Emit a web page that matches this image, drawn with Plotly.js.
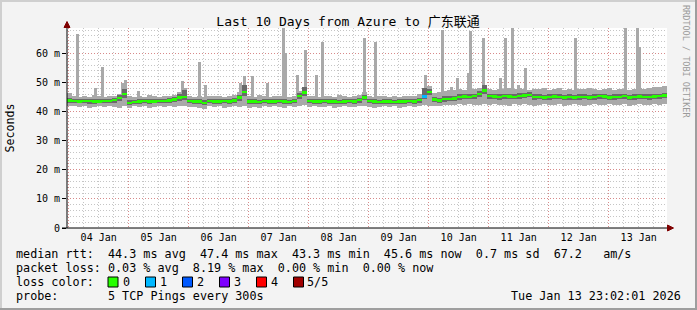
<!DOCTYPE html>
<html><head><meta charset="utf-8">
<script src="https://cdn.plot.ly/plotly-3.0.1.min.js"></script>
<style>html,body{margin:0;padding:0;background:#f3f3f3;}</style>
</head><body><div id="chart" style="width:697px;height:310px;"></div>
<script>
// ---------- data ----------
const rangeStart = '2026-01-03 23:20:00';
const rangeEnd = '2026-01-13 23:20:00';
const binHours = 2; // each smoke column covers 2 hours

const dayTicks = ['2026-01-04 12:00','2026-01-05 12:00','2026-01-06 12:00','2026-01-07 12:00','2026-01-08 12:00',
  '2026-01-09 12:00','2026-01-10 12:00','2026-01-11 12:00','2026-01-12 12:00','2026-01-13 12:00'];
const dayLabels = ['04 Jan','05 Jan','06 Jan','07 Jan','08 Jan','09 Jan','10 Jan','11 Jan','12 Jan','13 Jan'];
const midnights = ['2026-01-04','2026-01-05','2026-01-06','2026-01-07','2026-01-08','2026-01-09',
  '2026-01-10','2026-01-11','2026-01-12','2026-01-13'];
const yTickVals = [0,10,20,30,40,50,60];
const yTickText = ['0','10 m','20 m','30 m','40 m','50 m','60 m'];

// median rtt (ms) per 2h column
const rttMedian = [
 43.8,43.6,43.5,43.7,43.6,43.4,43.5,43.7,43.6,43.9,44.6,46.0,
 43.0,43.3,43.5,43.6,43.4,43.5,43.7,43.6,43.8,44.2,44.8,45.0,
 43.6,43.4,43.5,43.0,43.6,43.5,43.4,43.6,43.5,43.8,44.8,46.8,
 43.4,43.5,43.3,43.6,43.5,43.4,43.6,43.5,43.3,43.7,45.4,46.6,
 43.6,43.4,43.5,43.6,43.4,43.5,43.3,43.5,43.6,43.5,44.0,44.8,
 43.6,43.4,43.3,43.5,43.4,43.3,43.5,43.4,43.6,43.5,44.0,45.2,
 46.8,44.2,43.8,44.3,44.4,44.5,45.0,45.2,45.1,45.3,46.0,47.2,
 45.3,45.2,45.0,45.3,45.2,45.1,45.4,45.6,45.8,45.0,45.1,44.9,
 45.0,45.2,45.1,44.9,45.0,44.8,45.0,45.1,44.9,45.0,45.3,45.2,
 44.8,45.0,45.1,45.3,44.9,45.0,45.2,45.1,45.0,45.2,45.3,45.6];
// lowest ping per column
const rttMin = [
 41.9,42.0,41.6,41.8,41.2,41.7,41.9,41.5,41.8,41.6,41.3,41.9,
 41.4,41.8,41.6,41.9,41.2,41.7,41.8,41.5,41.9,41.6,41.8,42.0,
 41.5,41.7,41.2,41.0,41.8,41.6,41.9,41.4,41.7,41.8,41.6,41.9,
 41.3,41.5,41.1,41.8,41.6,41.9,41.7,41.4,41.8,41.6,41.9,42.1,
 41.6,41.8,41.5,41.7,41.9,41.4,41.6,41.8,41.5,41.7,41.9,42.0,
 41.6,41.4,41.7,41.9,41.5,41.8,41.3,41.6,41.8,41.7,41.9,42.1,
 42.0,41.8,42.0,42.2,42.4,42.1,42.5,42.3,42.6,42.2,42.4,42.5,
 42.3,42.6,42.1,42.4,42.0,42.5,42.3,42.6,42.2,41.8,42.3,42.5,
 42.1,42.4,42.6,41.9,42.3,42.5,42.2,42.0,42.4,42.6,42.3,42.1,
 42.5,42.2,42.4,42.6,42.0,42.3,42.5,42.2,42.4,42.6,42.3,42.7];
// highest ping per column (excluding isolated spikes below)
const rttMax = [
 46.4,45.3,45.0,45.4,45.1,45.6,45.2,44.9,45.3,45.5,46.2,47.0,
 45.2,45.0,45.4,45.1,45.6,45.3,44.9,45.2,45.5,45.8,46.8,47.2,
 45.4,45.1,45.3,45.0,45.5,45.2,45.4,45.1,45.3,45.6,46.8,48.5,
 45.3,45.1,45.6,45.2,45.0,45.4,45.3,45.5,45.1,45.4,47.0,48.3,
 45.2,45.5,45.0,45.3,45.4,45.1,45.6,45.2,45.0,45.3,45.8,46.6,
 45.3,45.1,45.4,45.2,45.0,45.3,45.1,45.4,45.2,45.5,45.9,48.2,
 48.8,46.4,46.8,47.2,47.5,47.3,47.8,47.5,47.9,47.6,48.2,49.3,
 47.8,47.5,47.9,47.6,48.0,47.7,48.1,47.8,47.5,47.9,47.6,48.0,
 47.4,47.7,48.1,47.5,47.8,47.3,47.9,47.6,48.0,47.7,47.4,47.8,
 48.1,47.5,47.8,47.6,47.3,47.9,48.2,47.7,48.0,48.3,48.6,48.9];
// inner (dense) smoke band
const rttInnerLo = [
 43.0,42.9,42.8,42.9,42.7,42.6,42.8,42.9,42.8,43.0,43.6,44.6,
 42.3,42.5,42.7,42.8,42.6,42.8,42.9,42.8,43.0,43.3,43.8,44.0,
 42.8,42.6,42.7,42.2,42.8,42.7,42.6,42.8,42.7,43.0,43.8,45.2,
 42.6,42.7,42.5,42.8,42.7,42.6,42.8,42.7,42.5,42.9,44.2,45.3,
 42.8,42.6,42.7,42.8,42.6,42.7,42.5,42.7,42.8,42.7,43.1,43.9,
 42.8,42.6,42.5,42.7,42.6,42.5,42.7,42.6,42.8,42.7,43.1,44.2,
 45.8,43.2,43.0,43.4,43.5,43.6,44.0,44.3,44.2,44.4,45.0,46.2,
 44.4,44.3,44.1,44.4,44.3,44.2,44.5,44.7,44.9,44.1,44.2,44.0,
 44.1,44.3,44.2,44.0,44.1,43.9,44.1,44.2,44.0,44.1,44.4,44.3,
 43.9,44.1,44.2,44.4,44.0,44.1,44.3,44.2,44.1,44.3,44.4,44.7];
const rttInnerHi = [
 44.6,44.4,44.3,44.5,44.4,44.3,44.3,44.5,44.4,44.7,45.8,47.6,
 43.9,44.1,44.3,44.4,44.2,44.3,44.5,44.4,44.6,45.0,46.0,47.5,
 44.4,44.2,44.3,43.9,44.4,44.3,44.2,44.4,44.3,44.6,45.8,49.0,
 44.2,44.3,44.1,44.4,44.3,44.2,44.4,44.3,44.1,44.5,46.5,48.6,
 44.4,44.2,44.3,44.4,44.2,44.3,44.1,44.3,44.4,44.3,44.8,45.7,
 44.4,44.2,44.1,44.3,44.2,44.1,44.3,44.2,44.4,44.3,44.8,48.2,
 47.8,45.0,44.7,45.2,45.3,45.4,45.9,46.1,46.0,46.2,47.0,49.3,
 46.2,46.1,45.9,46.2,46.1,46.0,46.3,46.5,46.7,45.9,46.0,45.8,
 45.9,46.1,46.0,45.8,45.9,45.7,45.9,46.0,45.8,45.9,46.2,46.1,
 45.7,45.9,46.0,46.2,45.8,45.9,46.1,46.0,45.9,46.1,46.2,46.5];
// lost pings (of 5) per column
const lostPings = [
 0,0,0,0,0,0,0,0,0,0,0,0, 0,0,0,0,0,0,0,0,0,0,0,0,
 0,0,0,0,0,0,0,0,0,0,0,0, 0,0,0,0,0,0,0,0,0,0,0,0,
 0,0,0,0,0,0,0,0,0,0,0,0, 0,0,0,0,0,0,0,0,0,0,0,1,
 0,0,0,0,0,0,0,0,0,0,0,0, 0,0,0,0,0,0,0,0,0,0,0,0,
 0,0,0,0,0,0,0,0,0,0,0,0, 0,0,0,0,0,0,0,0,0,0,0,0];
// isolated high pings
const spikeTimes = ['2026-01-04 03:20','2026-01-04 10:32','2026-01-04 13:20','2026-01-04 21:20','2026-01-04 22:32',
 '2026-01-05 03:44','2026-01-05 21:20','2026-01-05 22:32','2026-01-06 04:08','2026-01-06 06:32','2026-01-06 20:32',
 '2026-01-06 22:08','2026-01-07 01:20','2026-01-07 07:20','2026-01-07 13:44','2026-01-07 14:32','2026-01-07 19:20',
 '2026-01-07 22:32','2026-01-08 02:56','2026-01-08 05:20','2026-01-08 22:08','2026-01-09 02:32','2026-01-09 22:32',
 '2026-01-10 05:20','2026-01-10 08:56','2026-01-10 11:20','2026-01-10 15:44','2026-01-10 16:32','2026-01-10 21:44',
 '2026-01-11 04:32','2026-01-11 06:32','2026-01-11 09:20','2026-01-11 11:44','2026-01-11 14:32','2026-01-12 10:32',
 '2026-01-13 06:32','2026-01-13 11:20','2026-01-13 12:08'];
const spikeTops = [66.7,48.1,55.4,49.9,50.9,47.0,50.5,48.0,57.2,49.1,49.8,52.3,52.2,49.9,68.8,60.1,52.6,61.2,52.6,64.0,
 65.3,64.0,52.6,68.0,48.5,51.5,53.3,67.8,65.3,51.5,65.3,68.6,49.0,55.0,65.4,68.7,68.7,62.3];

const lossLabels = ['0','1','2','3','4','5/5'];
const lossColors = ['#26ff00','#00b8ff','#0059ff','#7e00ff','#ff0000','#a10000'];

const statLines = [
  'median rtt:  44.3 ms avg  47.4 ms max  43.3 ms min  45.6 ms now  0.7 ms sd  67.2   am/s',
  'packet loss: 0.03 % avg  8.19 % max  0.00 % min  0.00 % now',
  'loss color:',
  'probe:       5 TCP Pings every 300s'
];
const stampText = 'Tue Jan 13 23:02:01 2026';
const statY = [254,268,282,296];

// ---------- drawing ----------
const W = 697, H = 310, L = 67, T = 28, PW = 600, PH = 200;
const px = x => (x - L) / PW;
const py = y => (T + PH - y) / PH;
const MONO = 'DejaVu Sans Mono, monospace';
const LEG_FONT = {family: MONO, size: 11.75, color:'#000'};

const t0 = new Date(rangeStart.replace(' ', 'T') + 'Z').getTime();
const binMs = binHours * 3600000;
const fmt = ms => new Date(ms).toISOString().replace('T', ' ').slice(0, 19);
const binX = rttMedian.map((_, i) => fmt(t0 + (i + 0.5) * binMs));

const LIGHT = '#a9a9a9', DARK = '#6a6a6a';
const traces = [];
traces.push({type:'bar', x: spikeTimes, base: spikeTimes.map(() => 44), y: spikeTops.map(v => v - 44),
  width: 4320000, marker:{color: LIGHT, line:{width:0}}, hoverinfo:'skip', showlegend:false});
traces.push({type:'bar', x: binX, base: rttMin, y: rttMax.map((v, i) => v - rttMin[i]),
  width: binMs, marker:{color: LIGHT, line:{width:0}}, hoverinfo:'skip', showlegend:false});
traces.push({type:'bar', x: binX, base: rttInnerLo, y: rttInnerHi.map((v, i) => v - rttInnerLo[i]),
  width: binMs, marker:{color: DARK, line:{width:0}}, hoverinfo:'skip', showlegend:false});
traces.push({type:'bar', x: binX, base: rttMedian.map(v => v - 0.42), y: rttMedian.map(() => 0.84),
  width: binMs, marker:{color: lostPings.map(n => lossColors[n]), line:{width:0}}, hoverinfo:'skip', showlegend:false});
traces.push({type:'scatter', x: [], y: [], xaxis:'x2', yaxis:'y', hoverinfo:'skip', showlegend:false});

const annotations = [];
statLines.forEach((txt, li) => {
  annotations.push({xref:'paper', yref:'paper', x: px(16), y: py(statY[li]), xanchor:'left', yanchor:'middle',
    text: txt.replace(/ /g, '\u00a0'), showarrow:false, borderpad:0, borderwidth:0, font: LEG_FONT});
});
annotations.push({xref:'paper', yref:'paper', x: px(680.5), y: py(296), xanchor:'right', yanchor:'middle',
  text: stampText.replace(/ /g, '\u00a0'), showarrow:false, borderpad:0, borderwidth:0, font: LEG_FONT});
const boxX = [108, 145.5, 182.5, 219.5, 256.5, 293.5];
const digitX = [123, 160, 197, 234, 271, 307];
const shapes = [];
lossLabels.forEach((lab, i) => {
  shapes.push({type:'rect', xref:'paper', yref:'paper', x0: px(boxX[i]), x1: px(boxX[i] + 10), y0: py(287), y1: py(277),
    fillcolor: lossColors[i], line:{color:'#000', width:1}});
  annotations.push({xref:'paper', yref:'paper', x: px(digitX[i]), y: py(282), xanchor:'left', yanchor:'middle',
    text: lab, showarrow:false, borderpad:0, borderwidth:0, font: LEG_FONT});
});
// watermark
annotations.push({xref:'paper', yref:'paper', x: px(686), y: py(61), xanchor:'center', yanchor:'middle', textangle: 90,
  text: 'RRDTOOL / TOBI OETIKER', showarrow:false, font:{family: MONO, size: 8.5, color:'#9a9a9a'}});

// frame & arrows
shapes.push({type:'rect', xref:'paper', yref:'paper', x0: px(0), x1: px(697), y0: py(310), y1: py(308), fillcolor:'#9e9e9e', line:{width:0}, layer:'above'});
shapes.push({type:'rect', xref:'paper', yref:'paper', x0: px(695), x1: px(697), y0: py(310), y1: py(0), fillcolor:'#9e9e9e', line:{width:0}, layer:'above'});
shapes.push({type:'rect', xref:'paper', yref:'paper', x0: px(0), x1: px(695), y0: py(2), y1: py(0), fillcolor:'#cfcfcf', line:{width:0}, layer:'above'});
shapes.push({type:'rect', xref:'paper', yref:'paper', x0: px(0), x1: px(2), y0: py(308), y1: py(0), fillcolor:'#cfcfcf', line:{width:0}, layer:'above'});
shapes.push({type:'line', xref:'paper', yref:'paper', x0: px(67), x1: px(67), y0: py(228), y1: py(24), line:{color:'#000', width:1}, layer:'above'});
shapes.push({type:'line', xref:'paper', yref:'paper', x0: px(62), x1: px(670), y0: py(228), y1: py(228), line:{color:'#000', width:1}, layer:'above'});
shapes.push({type:'path', xref:'paper', yref:'paper',
  path: `M ${px(64)} ${py(27.5)} L ${px(67)} ${py(21.5)} L ${px(70)} ${py(27.5)} Z`, fillcolor:'#7f0000', line:{color:'#7f0000', width:1}, layer:'above'});
shapes.push({type:'path', xref:'paper', yref:'paper',
  path: `M ${px(667.5)} ${py(225)} L ${px(673.5)} ${py(228)} L ${px(667.5)} ${py(231)} Z`, fillcolor:'#7f0000', line:{color:'#7f0000', width:1}, layer:'above'});

const MINOR = 'rgba(150,150,150,0.55)', MAJOR = 'rgba(230,90,90,0.55)';
const layout = {
  width: W, height: H,
  margin: {l: L, r: W - L - PW, t: T, b: H - T - PH, pad: 0},
  paper_bgcolor: '#f3f3f3', plot_bgcolor: '#ffffff',
  barmode: 'overlay', bargap: 0,
  showlegend: false,
  title: {text: 'Last 10 Days from Azure to 广东联通', x: 348 / W, xref:'container', xanchor:'center',
    y: 1 - 21 / H, yref:'container', yanchor:'middle',
    font: {family: 'DejaVu Sans Mono, Noto Sans CJK SC, monospace', size: 13, color:'#000'}},
  xaxis: {type:'date', range:[rangeStart, rangeEnd], tickmode:'array', tickvals: dayTicks, ticktext: dayLabels,
    showgrid:false, zeroline:false, showline:false, ticks:'', ticklen:0, ticklabelstandoff: 2,
    tickfont:{family: MONO, size: 10, color:'#000'},
    minor:{tickmode:'linear', tick0:'2026-01-04 00:00', dtick: 21600000, showgrid:true, gridcolor: MINOR, griddash:'1px,2px', gridwidth:1, ticks:''}},
  xaxis2: {type:'date', overlaying:'x', anchor:'y', range:[rangeStart, rangeEnd], tickmode:'array', tickvals: midnights,
    showticklabels:false, showgrid:true, gridcolor: MAJOR, griddash:'1px,2px', gridwidth:1, zeroline:false, showline:false, ticks:''},
  yaxis: {range:[0, 200 / 2.91], tickmode:'array', tickvals: yTickVals, ticktext: yTickText,
    showgrid:true, gridcolor: MAJOR, griddash:'1px,2px', gridwidth:1, zeroline:false, showline:false,
    ticks:'outside', ticklen:4, tickcolor:'#000', tickwidth:1,
    tickfont:{family: MONO, size: 10, color:'#000'},
    minor:{dtick: 2, showgrid:true, gridcolor: MINOR, griddash:'1px,2px', gridwidth:1, ticks:''},
    title:{text:'Seconds', standoff: 18, font:{family: MONO, size: 11.6, color:'#000'}}},
  annotations, shapes
};
Plotly.newPlot('chart', traces, layout, {staticPlot: true, displayModeBar: false});
</script></body></html>
